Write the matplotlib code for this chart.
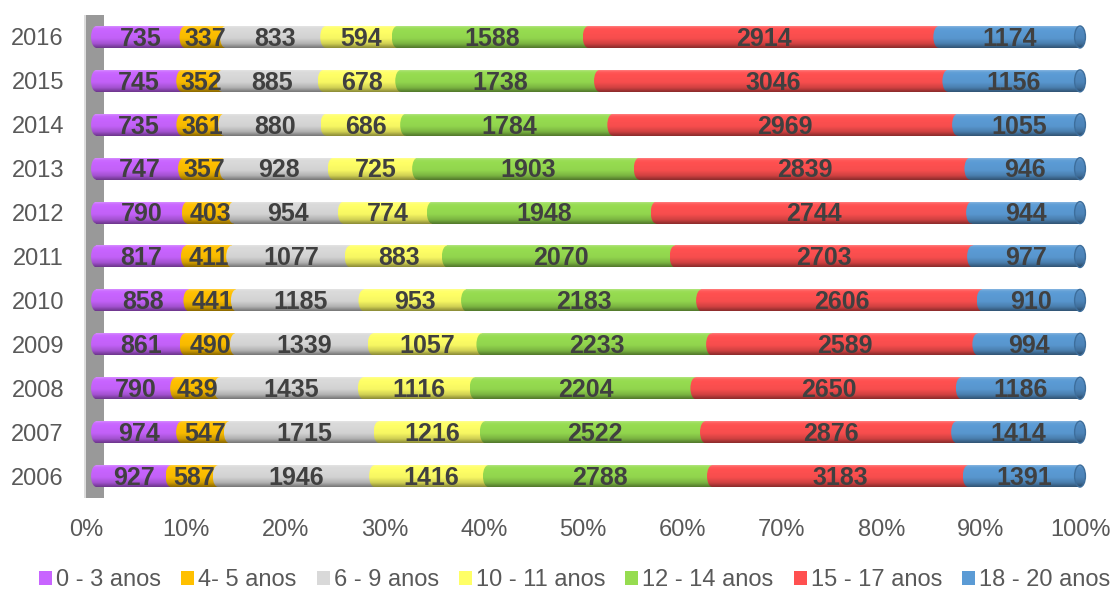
import matplotlib.pyplot as plt
import numpy as np
from matplotlib.patches import Ellipse, Rectangle, Patch
from matplotlib.transforms import ScaledTranslation

plt.rcParams['font.family'] = ['Liberation Sans', 'DejaVu Sans']

years = ['2006', '2007', '2008', '2009', '2010', '2011', '2012', '2013', '2014', '2015', '2016']
groups = ['0 - 3 anos', '4- 5 anos', '6 - 9 anos', '10 - 11 anos',
          '12 - 14 anos', '15 - 17 anos', '18 - 20 anos']

a0_3 = [927, 974, 790, 861, 858, 817, 790, 747, 735, 745, 735]
a4_5 = [587, 547, 439, 490, 441, 411, 403, 357, 361, 352, 337]
a6_9 = [1946, 1715, 1435, 1339, 1185, 1077, 954, 928, 880, 885, 833]
a10_11 = [1416, 1216, 1116, 1057, 953, 883, 774, 725, 686, 678, 594]
a12_14 = [2788, 2522, 2204, 2233, 2183, 2070, 1948, 1903, 1784, 1738, 1588]
a15_17 = [3183, 2876, 2650, 2589, 2606, 2703, 2744, 2839, 2969, 3046, 2914]
a18_20 = [1391, 1414, 1186, 994, 910, 977, 944, 946, 1055, 1156, 1174]

colors = ['#C864FF', '#FFC000', '#D9D9D9', '#FFFF66', '#96DC50', '#FF5050', '#5B9BD5']

series = np.array([a0_3, a4_5, a6_9, a10_11, a12_14, a15_17, a18_20], dtype=float)
pct = series / series.sum(axis=0) * 100

fig = plt.figure(figsize=(11.17, 5.93), dpi=100)
ax = fig.add_axes([82 / 1117, 95 / 593, 1011 / 1117, 483 / 593])

# cylinder shading profile, top -> bottom
t = np.linspace(0, 1, 40)
shade = np.interp(t, [0, 0.08, 0.2, 0.55, 0.8, 1.0], [1.25, 1.05, 1.0, 0.97, 0.82, 0.55])


def grad(c):
    rgb = np.array(plt.matplotlib.colors.to_rgb(c))
    out = []
    for s in shade:
        if s >= 1:
            out.append(rgb + (1 - rgb) * (s - 1))
        else:
            out.append(rgb * s)
    return np.clip(np.array(out), 0, 1)[:, None, :]


h = 0.5
capw = 1.1

# grey back wall
ax.add_patch(Rectangle((-1.07, -0.5), 1.83, 11, facecolor='#999999', edgecolor='none', zorder=0))
ax.add_patch(Rectangle((-1.25, -0.5), 0.18, 11, facecolor='#dcdcdc', edgecolor='none', zorder=0))

for yi in range(len(years)):
    left = 0.0
    for k in range(len(groups)):
        w = pct[k, yi]
        img = grad(colors[k])
        z = 2 + k * 0.1
        ax.imshow(img, extent=[left, left + w, yi - h / 2, yi + h / 2], aspect='auto',
                  interpolation='bilinear', zorder=z)
        im = ax.imshow(img, extent=[left - capw / 2, left + capw / 2, yi - h / 2, yi + h / 2],
                       aspect='auto', interpolation='bilinear', zorder=z)
        im.set_clip_path(Ellipse((left, yi), capw, h, transform=ax.transData))
        ax.text(left + w / 2, yi - 0.04, '%d' % series[k, yi], ha='center', va='center',
                fontsize=18, fontweight='bold', color='#404040', zorder=5)
        left += w
    # right end cap
    im = ax.imshow(grad('#4F88BE'), extent=[left - capw / 2, left + capw / 2, yi - h / 2, yi + h / 2],
                   aspect='auto', interpolation='bilinear', zorder=3)
    im.set_clip_path(Ellipse((left, yi), capw, h, transform=ax.transData))
    ax.add_patch(Ellipse((left, yi), capw, h, facecolor='none', edgecolor='#3D6E9C', lw=1, zorder=3.1))

ax.set_xlim(-1.47, 101.32)
ax.set_ylim(-0.5, 10.5)
ax.set_yticks(range(len(years)))
ax.set_yticklabels(years)
ticks = list(range(0, 101, 10))
ax.set_xticks(ticks)
ax.set_xticklabels(['%d%%' % v for v in ticks])
ax.tick_params(axis='both', length=0, labelsize=17, labelcolor='#595959')
ax.tick_params(axis='x', pad=15)
ax.tick_params(axis='y', pad=13)
# perspective shift of the floor labels
for v, lab in zip(ticks, ax.get_xticklabels()):
    off = ScaledTranslation(-10 * (1 - v / 100) / 100, 0, fig.dpi_scale_trans)
    lab.set_transform(lab.get_transform() + off)
for sp in ax.spines.values():
    sp.set_visible(False)

handles = [Patch(facecolor=c, edgecolor='none') for c in colors]
fig.legend(handles, groups, loc='center', bbox_to_anchor=(0.5145, 1 - 580 / 593), ncol=7,
           frameon=False, fontsize=17, labelcolor='#595959', handlelength=0.55, handleheight=0.55,
           handletextpad=0.17, columnspacing=0.85, borderaxespad=0, borderpad=0)

plt.savefig('out.png', dpi=100)
